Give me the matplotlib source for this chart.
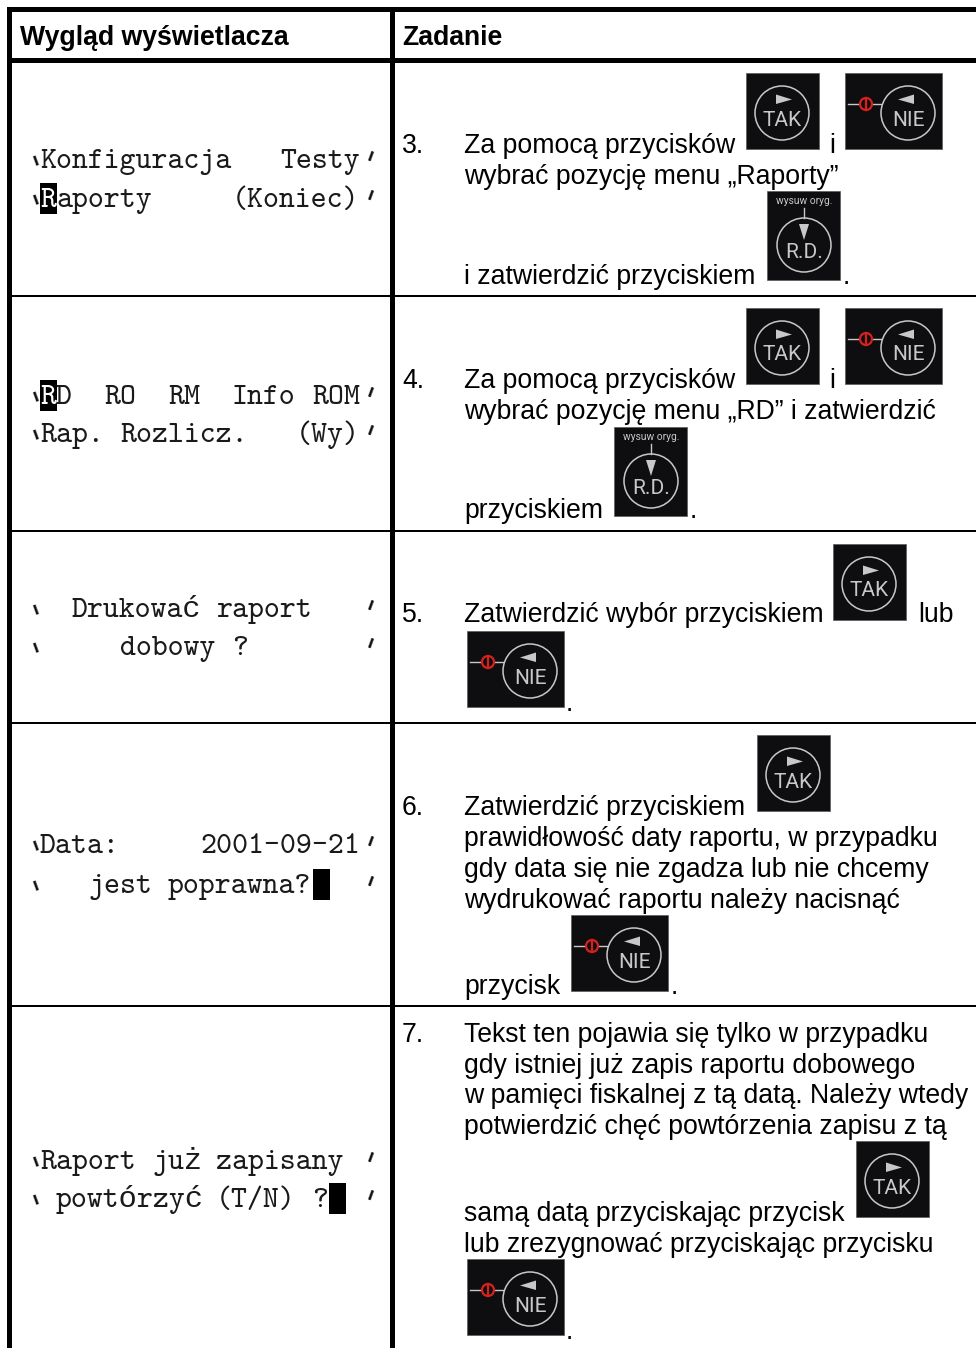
import re
import matplotlib
matplotlib.use('Agg')
import matplotlib.pyplot as plt
from matplotlib.patches import Rectangle, Circle, Polygon

# table text
HEADERS = ["Wygląd wyświetlacza", "Zadanie"]

DISPLAY_LINES = [
    "`Konfiguracja   Testy´",
    "`Raporty     (Koniec)´",
    "`RD  RO  RM  Info ROM´",
    "`Rap. Rozlicz.   (Wy)´",
    "`  Drukować raport   ´",
    "`     dobowy ?       ´",
    "`Data:     2001-09-21´",
    "`   jest poprawna?   ´",
    "`Raport już zapisany ´",
    "` powtórzyć (T/N) ?  ´",
]
# line index -> character cell holding the display cursor
CURSOR_CELLS = {1: 1, 2: 1, 7: 18, 9: 19}

STEP_NUMBERS = ["3.", "4.", "5.", "6.", "7."]

TASK_LINES = [
    "Za pomocą przycisków", "i", "wybrać pozycję menu „Raporty”",
    "i zatwierdzić przyciskiem", ".",
    "Za pomocą przycisków", "i", "wybrać pozycję menu „RD” i zatwierdzić",
    "przyciskiem", ".",
    "Zatwierdzić wybór przyciskiem", "lub", ".",
    "Zatwierdzić przyciskiem", "prawidłowość daty raportu, w przypadku",
    "gdy data się nie zgadza lub nie chcemy", "wydrukować raportu należy nacisnąć",
    "przycisk", ".",
    "Tekst ten pojawia się tylko w przypadku", "gdy istniej już zapis raportu dobowego",
    "w pamięci fiskalnej z tą datą. Należy wtedy", "potwierdzić chęć powtórzenia zapisu z tą",
    "samą datą przyciskając przycisk", "lub zrezygnować przyciskając przycisku", ".",
]

# layout, in pixels of the page
W, H = 976, 1348
ROW_LINES = [296, 531, 723, 1006]
DISPLAY_Y = [168, 207, 404, 442, 617, 655, 853, 893, 1169, 1207]
STEP_Y = [153, 388, 622, 815, 1042]
TASK_POS = [
    (464, 153), (829, 153), (464, 184), (464, 284), (843, 284),
    (464, 388), (829, 388), (464, 419), (464, 518), (690, 518),
    (464, 622), (918, 622), (566, 711),
    (464, 815), (464, 846), (464, 877), (464, 908), (464, 994), (671, 994),
    (464, 1042), (464, 1073), (464, 1103), (464, 1134),
    (464, 1221), (464, 1252), (566, 1339),
]
TAK_POS = [(746, 73), (746, 308), (833, 544), (757, 735), (856, 1141)]
NIE_POS = [(845, 73), (845, 308), (467, 631), (571, 915), (467, 1259)]
RD_POS = [(767, 191), (614, 427)]

KEY_BG = '#0e0e10'
KEY_FG = '#c8c8c8'
MONO_X = 24
MONO_W = 16
MONO_FONT = ['cmtt10', 'Liberation Mono']
MONO_SIZE = 21.9
SANS_SIZE = 19.15


def key_box(ax, x, y, w, h):
    ax.add_patch(Rectangle((x, y), w, h, fc=KEY_BG, ec='#5a5a5a', lw=0.5, zorder=2))


def key_face(ax, cx, cy, label, label_y, tri):
    ax.add_patch(Circle((cx, cy), 27, fc='none', ec=KEY_FG, lw=1.1, zorder=3))
    ax.add_patch(Polygon(tri, closed=True, fc=KEY_FG, ec='none', zorder=3))
    ax.text(cx, label_y, label, color=KEY_FG, fontsize=15, family='Roboto',
            ha='center', va='center', zorder=4)


def draw_tak(ax, x, y):
    key_box(ax, x, y, 73, 76)
    cx, cy = x + 36, y + 40
    tri = [(cx - 6, cy - 18.5), (cx - 6, cy - 9), (cx + 10, cy - 13.5)]
    key_face(ax, cx, cy, "TAK", cy + 7, tri)


def draw_nie(ax, x, y):
    key_box(ax, x, y, 97, 76)
    cx, cy = x + 63, y + 40
    tri = [(cx + 6, cy - 18.5), (cx + 6, cy - 9), (cx - 10, cy - 13.5)]
    key_face(ax, cx, cy, "NIE", cy + 7, tri)
    ly = y + 31
    ax.plot([x + 3, x + 36], [ly, ly], color=KEY_FG, lw=1.0, zorder=3)
    ax.add_patch(Circle((x + 21, ly), 6, fc=KEY_BG, ec='#d8201c', lw=1.6, zorder=4))
    ax.plot([x + 21, x + 21], [ly - 6, ly + 6], color='#d8201c', lw=1.6, zorder=4)


def draw_rd(ax, x, y):
    key_box(ax, x, y, 73, 89)
    cx, cy = x + 37, y + 54
    ax.text(cx, y + 10, "wysuw oryg.", color=KEY_FG, fontsize=7.4, family='Roboto',
            ha='center', va='center', zorder=4)
    ax.plot([cx, cx], [y + 17, y + 27], color=KEY_FG, lw=1.0, zorder=3)
    tri = [(cx - 5, cy - 21), (cx + 5, cy - 21), (cx, cy - 5)]
    key_face(ax, cx, cy, "R.D.", cy + 7, tri)


def draw_display_line(ax, line, y, cursor):
    # words go on their own cell so that fallback glyphs do not shift the rest
    if cursor is not None:
        ax.add_patch(Rectangle((MONO_X + cursor * MONO_W + (cursor > 1), y - 24), 17, 31,
                               fc='black', ec='none', zorder=3))
        if line[cursor] != ' ':
            ax.text(MONO_X + cursor * MONO_W, y, line[cursor], fontsize=MONO_SIZE,
                    family=MONO_FONT, va='baseline', color='white', zorder=4)
            line = line[:cursor] + ' ' + line[cursor + 1:]
    for m in re.finditer(r"[`´]|[^\s`´]+", line):
        x = MONO_X + m.start() * MONO_W
        if m.group() == '`':
            ax.text(x + 17, y + 7, "'", fontsize=22, family='Liberation Mono', rotation=20,
                    rotation_mode='anchor', ha='center', va='baseline', color='#111111')
        elif m.group() == '´':
            ax.text(x + 3.5, y + 7, "'", fontsize=22, family='Liberation Mono', rotation=-20,
                    rotation_mode='anchor', ha='center', va='baseline', color='#111111')
        else:
            ax.text(x, y, m.group(), fontsize=MONO_SIZE, family=MONO_FONT,
                    va='baseline', color='#1a1a1a')


fig = plt.figure(figsize=(W / 100, H / 100), dpi=100)
ax = fig.add_axes([0, 0, 1, 1])
ax.set_xlim(0, W)
ax.set_ylim(H, 0)
ax.axis('off')

# table frame
ax.add_patch(Rectangle((7, 7), W - 7, 5, fc='black', ec='none'))
ax.add_patch(Rectangle((7, 7), 5, H - 7, fc='black', ec='none'))
ax.add_patch(Rectangle((390, 7), 5, H - 7, fc='black', ec='none'))
ax.add_patch(Rectangle((7, 58), W - 7, 4.5, fc='black', ec='none'))
for y in ROW_LINES:
    ax.add_patch(Rectangle((7, y - 1), W - 7, 2, fc='black', ec='none'))

ax.text(20, 45, HEADERS[0], fontsize=SANS_SIZE, weight='bold', family='Liberation Sans', va='baseline')
ax.text(402, 45, HEADERS[1], fontsize=SANS_SIZE, weight='bold', family='Liberation Sans', va='baseline')

# display column
for i, (line, y) in enumerate(zip(DISPLAY_LINES, DISPLAY_Y)):
    draw_display_line(ax, line, y, CURSOR_CELLS.get(i))

# task column
for num, y in zip(STEP_NUMBERS, STEP_Y):
    ax.text(402, y, num, fontsize=SANS_SIZE, family='Liberation Sans', va='baseline')
for line, (x, y) in zip(TASK_LINES, TASK_POS):
    ax.text(x, y, line, fontsize=SANS_SIZE, family='Liberation Sans', va='baseline')

for x, y in TAK_POS:
    draw_tak(ax, x, y)
for x, y in NIE_POS:
    draw_nie(ax, x, y)
for x, y in RD_POS:
    draw_rd(ax, x, y)

fig.savefig('out.png', dpi=100)
